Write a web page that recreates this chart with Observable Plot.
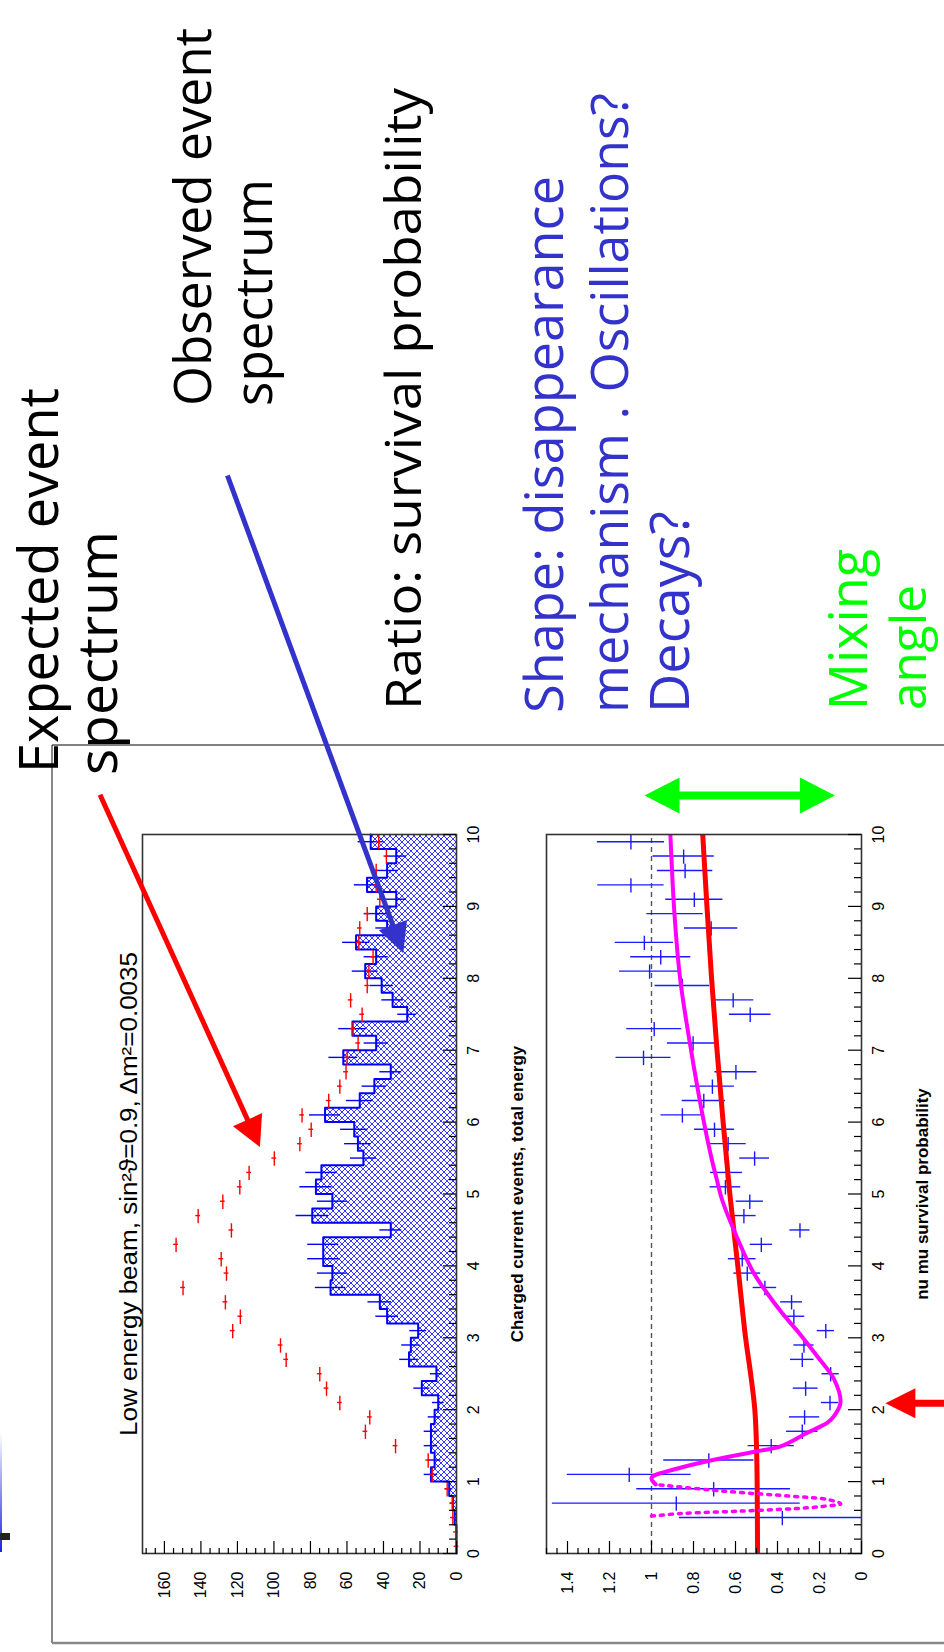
<!DOCTYPE html>
<html>
<head>
<meta charset="utf-8">
<script src="https://cdn.jsdelivr.net/npm/d3@7"></script>
<script src="https://cdn.jsdelivr.net/npm/@observablehq/plot@0.6"></script>
<style>
  html, body { margin: 0; padding: 0; background: #fff; }
  #page { position: relative; width: 944px; height: 1652px; overflow: hidden; background: #fff; }
  #land { position: absolute; left: 0; top: 0; width: 1652px; height: 944px;
          transform-origin: 0 0; transform: translate(0px, 1652px) rotate(-90deg); }
</style>
</head>
<body>
<div id="page"><div id="land"></div></div>
<script>
// ---------------- data ----------------
const energyBins = [0.1,0.3,0.5,0.7,0.9,1.1,1.3,1.5,1.7,1.9,2.1,2.3,2.5,2.7,2.9,3.1,3.3,3.5,3.7,3.9,
  4.1,4.3,4.5,4.7,4.9,5.1,5.3,5.5,5.7,5.9,6.1,6.3,6.5,6.7,6.9,7.1,7.3,7.5,7.7,7.9,
  8.1,8.3,8.5,8.7,8.9,9.1,9.3,9.5,9.7,9.9];
const binHalfWidth = 0.1;
const observedCounts = [0,0,1,2,4,14,12,14,14,12,10,19,11,26,25,21,38,42,69,68,
  73,73,36,79,68,77,74,51,54,56,72,53,45,36,62,44,57,27,35,41,
  50,44,55,38,44,33,49,38,33,47];
const observedErrors = [0,0,1,1.4,2,3.7,3.5,3.7,3.7,3.5,3.2,4.4,3.3,5.1,5,4.6,6.2,6.5,8.3,8.2,
  8.5,8.5,6,8.9,8.2,8.8,8.6,7.1,7.3,7.5,8.5,7.3,6.7,6,7.9,6.6,7.5,5.2,5.9,6.4,
  7.1,6.6,7.4,6.2,6.6,5.7,7,6.2,5.7,6.9];
const expectedCounts = [0,0.3,2,2.3,5.1,13.3,15.5,33.4,49.9,47.5,63.9,71.2,74.9,93.3,96.4,122.6,118.4,126.6,149.8,126,
  128.9,153.6,123.3,141.5,128,118.7,113.6,99.8,85.8,79.6,84.6,70,63.9,60.5,59.9,53.9,56.7,51.7,58,48.9,
  48,45.7,53.5,53,48.9,42,44,44,38.4,42.6];
const expectedError = 1.3;

const ratioEnergy = [0.5,0.7,0.9,1.1,1.3,1.5,1.7,1.9,2.1,2.3,2.5,2.7,2.9,3.1,3.3,3.5,3.7,3.9,
  4.1,4.3,4.5,4.7,4.9,5.1,5.3,5.5,5.7,5.9,6.1,6.3,6.5,6.7,6.9,7.1,7.3,7.5,7.7,7.9,
  8.1,8.3,8.5,8.7,8.9,9.1,9.3,9.5,9.7,9.9];
const ratioValue = [0.377,0.882,0.704,1.106,0.727,0.43,0.282,0.271,0.15,0.266,0.147,0.282,0.274,0.17,0.322,0.333,0.46,0.544,
  0.568,0.477,0.293,0.56,0.532,0.648,0.643,0.509,0.635,0.70,0.853,0.751,0.71,0.598,1.038,0.802,0.987,0.53,0.611,0.853,
  1.009,0.956,1.034,0.716,0.888,0.796,1.098,0.84,0.847,1.098];
const ratioError = [0.49,0.59,0.366,0.295,0.215,0.11,0.075,0.072,0.041,0.059,0.041,0.056,0.048,0.041,0.052,0.052,0.056,0.064,
  0.066,0.053,0.048,0.058,0.065,0.073,0.076,0.071,0.086,0.095,0.102,0.103,0.105,0.1,0.131,0.122,0.131,0.099,0.098,0.13,
  0.143,0.143,0.139,0.127,0.134,0.136,0.158,0.132,0.146,0.16];

// oscillation fit (magenta)
const oscDottedE = [0.52,0.556,0.589,0.635,0.66,0.691,0.751,0.797,0.867,0.96];
const oscDottedP = [1.0,0.862,0.576,0.258,0.17,0.099,0.162,0.337,0.656,0.98];
const oscSolidE = [0.96,1.053,1.168,1.284,1.423,1.49,1.679,1.82,1.91,2.1,2.42,2.74,3.04,3.34,3.62,3.9,4.5,4.92,5.2,5.47,6.13,7.06,7.98,8.91,10];
const oscSolidP = [0.98,1.0,0.894,0.735,0.496,0.385,0.258,0.162,0.131,0.1,0.13,0.21,0.29,0.377,0.449,0.513,0.608,0.664,0.689,0.712,0.759,0.815,0.863,0.891,0.91];
// decay fit (red)
const decayE = [0,1,1.5,2,2.5,3,4,5,6,7,8,9,10];
const decayP = [0.495,0.497,0.5,0.508,0.528,0.552,0.589,0.627,0.659,0.688,0.714,0.736,0.756];

// ticks
const energyTicks = [0,1,2,3,4,5,6,7,8,9,10];
const countTicks = [0,20,40,60,80,100,120,140,160];
const ratioTicks = [0,0.2,0.4,0.6,0.8,1,1.2,1.4];
const ratioTickLabels = ["0","0.2","0.4","0.6","0.8","1","1.2","1.4"];

// texts
const topTitle = "Low energy beam, sin\u00B2\u03D1=0.9, \u0394m\u00B2=0.0035";
const bottomTitle = "Charged current events, total energy";
const bottomXLabel = "nu mu survival probability";

// annotation arrows in data units
const expectedArrow = [10.56, 195, 5.66, 107.4];   // top panel: from (E, count) to (E, count)
const observedArrow = [15.0, 125.2, 8.355, 28.9];  // top panel
const mixingArrow = [10.55, 1.031, 0.124];         // bottom panel: E, ratio from, ratio to
const dmArrow = [2.096, -0.474, -0.116];            // bottom panel: E, tail ratio, tip ratio

// ---------------- build ----------------
const land = document.getElementById("land");
const NS = "http://www.w3.org/2000/svg";
const chartFont = "'Liberation Sans', Arial, Helvetica, sans-serif";

const topRows = energyBins.map((e, i) => ({e, lo: e - binHalfWidth, hi: e + binHalfWidth,
  obs: observedCounts[i], err: observedErrors[i], exp: expectedCounts[i]}));
const stepRows = topRows.map(d => ({x: d.lo, y: d.obs}));
stepRows.push({x: topRows[topRows.length-1].hi, y: topRows[topRows.length-1].obs});
const ratioRows = ratioEnergy.map((e, i) => ({e, lo: e - binHalfWidth, hi: e + binHalfWidth, r: ratioValue[i], err: ratioError[i]}));
const dotted = oscDottedE.map((e, i) => ({e, p: oscDottedP[i]}));
const solid = oscSolidE.map((e, i) => ({e, p: oscSolidP[i]}));
const decay = decayE.map((e, i) => ({e, p: decayP[i]}));

const minorE = d3.range(0, 10.001, 0.2).filter(v => Math.abs(v - Math.round(v)) > 1e-6);
const minorCount = d3.range(0, 171, 5).filter(v => v % 20 !== 0);
const minorRatio = d3.range(0, 1.5001, 0.05).filter(v => Math.abs(v*5 - Math.round(v*5)) > 1e-6);

function hatchDefs() {
  const defs = document.createElementNS(NS, "defs");
  defs.innerHTML = '<pattern id="hatch" patternUnits="userSpaceOnUse" width="6" height="6">' +
    '<path d="M-1,-1L7,7M7,-1L-1,7" stroke="#1f1fff" stroke-width="0.9"/></pattern>';
  return defs;
}

const plotA = Plot.plot({
  width: 1652, height: 500,
  marginLeft: 98, marginRight: 835, marginTop: 142, marginBottom: 44,
  style: {background: "none", overflow: "visible", fontFamily: chartFont, color: "#000"},
  x: {domain: [0, 10]},
  y: {domain: [0, 172]},
  marks: [
    hatchDefs,
    Plot.rect(topRows, {x1: "lo", x2: "hi", y1: () => 0, y2: "obs", fill: "url(#hatch)"}),
    Plot.line(stepRows, {x: "x", y: "y", curve: "step-after", stroke: "#0000ff", strokeWidth: 2}),
    Plot.ruleX(topRows, {x: "e", y1: d => d.obs - d.err, y2: d => d.obs + d.err, stroke: "#0000ff", strokeWidth: 1.4}),
    Plot.ruleY(topRows, {y: "exp", x1: "lo", x2: "hi", stroke: "#ff0000", strokeWidth: 1.4}),
    Plot.ruleX(topRows, {x: "e", y1: d => d.exp - expectedError, y2: d => d.exp + expectedError, stroke: "#ff0000", strokeWidth: 1.4}),
    Plot.frame({stroke: "#333", strokeWidth: 1.6}),
    Plot.axisX({ticks: energyTicks, tickSize: -13, tickFormat: () => "", strokeWidth: 1.2}),
    Plot.axisX({ticks: minorE, tickSize: -7, tickFormat: () => "", strokeWidth: 1.2}),
    Plot.axisX({ticks: energyTicks, tickSize: 0, tickPadding: 11, fontSize: 16}),
    Plot.axisY({ticks: countTicks, tickSize: -13, tickFormat: () => "", strokeWidth: 1.2}),
    Plot.axisY({ticks: minorCount, tickSize: -6, tickFormat: () => "", strokeWidth: 1.2}),
    Plot.axisY({ticks: countTicks, tickSize: 0, tickPadding: 18, fontSize: 16}),
    Plot.text([topTitle], {frameAnchor: "top", dy: -6, lineAnchor: "bottom", fontSize: 23, fill: "#000"})
  ]
});
plotA.style.position = "absolute"; plotA.style.left = "0px"; plotA.style.top = "0px";
land.appendChild(plotA);
plotA.querySelectorAll("text").forEach(t => {
  if (t.textContent === topTitle) { t.setAttribute("textLength", 484); t.setAttribute("lengthAdjust", "spacingAndGlyphs"); }
});

const offB = 500;
const plotB = Plot.plot({
  width: 1652, height: 444,
  marginLeft: 98, marginRight: 835, marginTop: 46, marginBottom: 83,
  style: {background: "none", overflow: "visible", fontFamily: chartFont, color: "#000"},
  x: {domain: [0, 10]},
  y: {domain: [0, 1.5]},
  marks: [
    Plot.ruleY([1], {stroke: "#555", strokeWidth: 1.4, strokeDasharray: "5,4"}),
    Plot.ruleX(ratioRows, {x: "e", y1: d => d.r - d.err, y2: d => d.r + d.err, stroke: "#1a1aff", strokeWidth: 1.4, clip: true}),
    Plot.ruleY(ratioRows, {y: "r", x1: "lo", x2: "hi", stroke: "#1a1aff", strokeWidth: 1.4, clip: true}),
    Plot.line(decay, {x: "e", y: "p", curve: "catmull-rom", stroke: "#ff0000", strokeWidth: 5, clip: true}),
    Plot.line(solid, {x: "e", y: "p", curve: "catmull-rom", stroke: "#ff00ff", strokeWidth: 4, clip: true}),
    Plot.line(dotted, {x: "e", y: "p", curve: "catmull-rom", stroke: "#ff00ff", strokeWidth: 3.5, strokeDasharray: "3,6", clip: true}),
    Plot.frame({stroke: "#333", strokeWidth: 1.6}),
    Plot.axisX({ticks: energyTicks, tickSize: -13, tickFormat: () => "", strokeWidth: 1.2}),
    Plot.axisX({ticks: minorE, tickSize: -7, tickFormat: () => "", strokeWidth: 1.2}),
    Plot.axisX({ticks: energyTicks, tickSize: 0, tickPadding: 11, fontSize: 16}),
    Plot.axisY({ticks: ratioTicks, tickSize: -13, tickFormat: () => "", strokeWidth: 1.2}),
    Plot.axisY({ticks: minorRatio, tickSize: -6, tickFormat: () => "", strokeWidth: 1.2}),
    Plot.axisY({ticks: ratioTicks, tickSize: 0, tickPadding: 18, fontSize: 16, tickFormat: (d, i) => ratioTickLabels[i]}),
    Plot.text([bottomTitle], {frameAnchor: "top", dy: -24, lineAnchor: "bottom", fontSize: 17, fontWeight: "bold", fill: "#000"}),
    Plot.text([bottomXLabel], {frameAnchor: "bottom", dy: 66, lineAnchor: "bottom", fontSize: 17, fontWeight: "bold", fill: "#000"})
  ]
});
plotB.style.position = "absolute"; plotB.style.left = "0px"; plotB.style.top = offB + "px";
land.appendChild(plotB);

// ---------------- overlay: slide frame, annotations, arrows ----------------
const ov = d3.create("svg").attr("width", 1652).attr("height", 944)
  .style("position", "absolute").style("left", "0px").style("top", "0px").style("overflow", "visible");
land.appendChild(ov.node());

// slide frame
ov.append("line").attr("x1", 9).attr("y1", 52).attr("x2", 907).attr("y2", 52).attr("stroke", "#888").attr("stroke-width", 2);
ov.append("line").attr("x1", 9).attr("y1", 52).attr("x2", 9).attr("y2", 960).attr("stroke", "#888").attr("stroke-width", 2.5);
ov.append("line").attr("x1", 907).attr("y1", 52).attr("x2", 907).attr("y2", 960).attr("stroke", "#000").attr("stroke-width", 1);
// slide leftovers at the edge
const grad = ov.append("defs").append("linearGradient").attr("id", "fadeBlue").attr("x1", "0").attr("x2", "1").attr("y1", "0").attr("y2", "0");
grad.append("stop").attr("offset", "0").attr("stop-color", "#2222dd");
grad.append("stop").attr("offset", "1").attr("stop-color", "#2222dd").attr("stop-opacity", 0);
ov.append("rect").attr("x", 100).attr("y", 0).attr("width", 120).attr("height", 2).attr("fill", "url(#fadeBlue)");
ov.append("rect").attr("x", 112).attr("y", 0).attr("width", 7).attr("height", 10).attr("fill", "#222");

// big annotation texts (font shrunk where its natural width exceeds the target length)
const annoFont = "'Comic Sans MS', 'Open Sans', sans-serif";
const annotations = [
  {t: "Expected event", x: 879, y: 58, L: 385, s: 56, c: "#000"},
  {t: "spectrum", x: 877, y: 117, L: 244, s: 56, c: "#000"},
  {t: "Observed event", x: 1246, y: 211, L: 378, s: 56, c: "#000"},
  {t: "spectrum", x: 1246, y: 272, L: 227, s: 56, c: "#000"},
  {t: "Ratio: survival probability", x: 942, y: 421, L: 622, s: 50, c: "#000"},
  {t: "Shape: disappearance", x: 939, y: 563, L: 537, s: 55, c: "#3333cc"},
  {t: "mechanism . Oscillations?", x: 939, y: 628, L: 620, s: 55, c: "#3333cc"},
  {t: "Decays?", x: 939, y: 689, L: 202, s: 55, c: "#3333cc"},
  {t: "Mixing", x: 942, y: 867, L: 161, s: 56, c: "#00ff00"},
  {t: "angle", x: 942, y: 926, L: 125, s: 54, c: "#00ff00"}
];
annotations.forEach(a => {
  const t = ov.append("text").attr("x", a.x).attr("y", a.y).attr("font-size", a.s).attr("font-family", annoFont)
    .attr("fill", a.c).text(a.t);
  const natural = t.node().getComputedTextLength();
  if (natural > a.L) t.attr("font-size", (a.s * a.L / natural).toFixed(2));
  t.attr("textLength", a.L).attr("lengthAdjust", "spacingAndGlyphs");
});

function arrow(x0, y0, x1, y1, color, lw, hl, hw, twoHeads) {
  const dx = x1 - x0, dy = y1 - y0, len = Math.hypot(dx, dy);
  const ux = dx / len, uy = dy / len, nx = -uy, ny = ux;
  const head = (tx, ty, sx, sy) => {
    const bx = tx - sx * hl, by = ty - sy * hl;
    ov.append("path").attr("d", `M${tx},${ty}L${bx + nx*hw/2},${by + ny*hw/2}L${bx - nx*hw/2},${by - ny*hw/2}Z`).attr("fill", color);
  };
  const sx = twoHeads ? x0 + ux * (hl - 1) : x0, sy = twoHeads ? y0 + uy * (hl - 1) : y0;
  ov.append("line").attr("x1", sx).attr("y1", sy).attr("x2", x1 - ux * (hl - 1)).attr("y2", y1 - uy * (hl - 1))
    .attr("stroke", color).attr("stroke-width", lw);
  head(x1, y1, ux, uy);
  if (twoHeads) head(x0, y0, -ux, -uy);
}
const sxA = plotA.scale("x"), syA = plotA.scale("y");
const sxB = plotB.scale("x"), syB = plotB.scale("y");
arrow(sxA.apply(expectedArrow[0]), syA.apply(expectedArrow[1]), sxA.apply(expectedArrow[2]), syA.apply(expectedArrow[3]), "#ff0000", 5, 30, 32, false);
arrow(sxA.apply(observedArrow[0]), syA.apply(observedArrow[1]), sxA.apply(observedArrow[2]), syA.apply(observedArrow[3]), "#3333cc", 5, 30, 30, false);
arrow(sxB.apply(mixingArrow[0]), offB + syB.apply(mixingArrow[1]), sxB.apply(mixingArrow[0]), offB + syB.apply(mixingArrow[2]), "#00ff00", 8, 35, 36, true);
arrow(sxB.apply(dmArrow[0]), offB + syB.apply(dmArrow[1]), sxB.apply(dmArrow[0]), offB + syB.apply(dmArrow[2]), "#ff0000", 7, 30, 30, false);
</script>
</body>
</html>
